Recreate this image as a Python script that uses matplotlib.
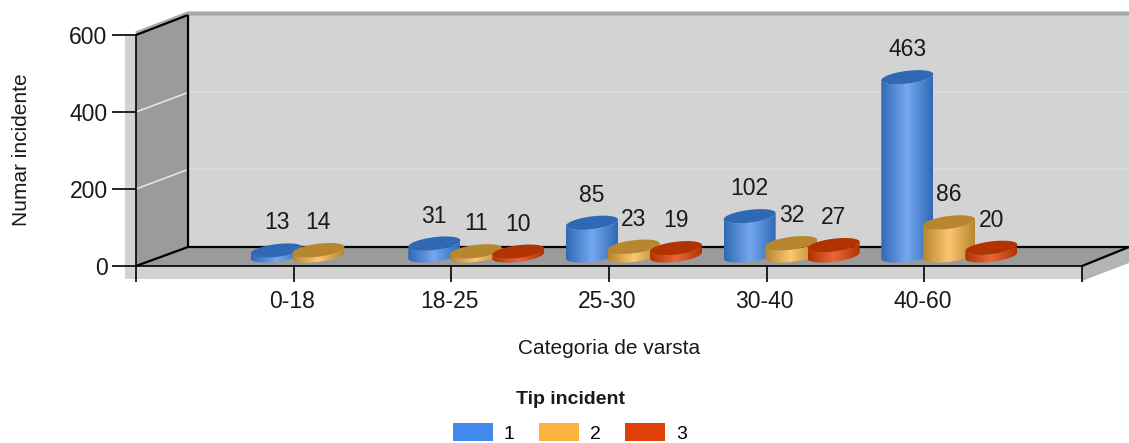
import numpy as np
import matplotlib
matplotlib.use("Agg")
import matplotlib.pyplot as plt
from matplotlib.colors import LinearSegmentedColormap
from matplotlib.patches import Polygon, Patch
from matplotlib.transforms import Affine2D, ScaledTranslation

categories = ["0-18", "18-25", "25-30", "30-40", "40-60"]
series_names = ["1", "2", "3"]
tip1 = [13, 31, 85, 102, 463]
tip2 = [14, 11, 23, 32, 86]
tip3 = [None, 10, 19, 27, 20]
y_ticks = [0, 200, 400, 600]
x_title = "Categoria de varsta"
y_title = "Numar incidente"
legend_title = "Tip incident"
legend_colors = ["#4289ee", "#fdb240", "#e04008"]
side_colors = [("#2f69b5", "#74a8f0"), ("#b8862f", "#fdc672"), ("#b23300", "#ea673c")]

W, H = 1129, 443
NUM_SIZE = 16.5
plt.rcParams["font.family"] = ["Liberation Sans", "DejaVu Sans"]
fig = plt.figure(figsize=(W / 100, H / 100), dpi=100, facecolor="white")
ax = fig.add_axes([136 / W, 1 - 266 / H, 946 / W, 231 / H])
ax.set_facecolor("none")
pix = Affine2D().scale(1, -1).translate(0, H)  # image-pixel coordinates

def deco(points, fc, z=0):
    fig.add_artist(Polygon(points, closed=True, fc=fc, ec="none", transform=pix, zorder=z))

def dline(xs, ys, color="black", lw=1.6, z=1):
    ax.plot(xs, ys, color=color, lw=lw, transform=pix, clip_on=False, zorder=z, solid_capstyle="butt")

OFFX, OFFY = 52, 19.5
LEFT, RIGHT, BOTTOM, TOP = 136, 1082, 266, 35
deco([(125, 35), (136, 35), (136, 279), (125, 279)], "#d3d3d3")
deco([(136, 266), (1082, 266), (1082, 279), (136, 279)], "#d3d3d3")
deco([(1082, 266), (1129, 247), (1129, 263), (1082, 281)], "#b4b4b4")
deco([(188, 15), (1129, 15), (1129, 247), (188, 247)], "#d3d3d3")
deco([(136, 35), (188, 15), (188, 247), (136, 266)], "#9b9b9b")
deco([(136, 266), (188, 247), (1129, 247), (1082, 266)], "#9b9b9b")

ax.set_xlim(0, 6)
ax.set_ylim(0, 600)

# gridlines on the walls
for v in y_ticks[1:-1]:
    _, yd = ax.transData.transform((0, v))
    yp = H - yd
    dline([LEFT, LEFT + OFFX], [yp, yp - OFFY], color="#e4e4e4", lw=1.2)
    dline([LEFT + OFFX, W], [yp - OFFY, yp - OFFY], color="#dcdcdc", lw=1.2)

# wall edges
dline([LEFT, LEFT + OFFX, W], [TOP - 1.5, 13.5, 13.5], color="#a8a8a8", lw=3)
dline([LEFT, LEFT + OFFX], [TOP, 15])
dline([LEFT, LEFT + OFFX], [BOTTOM, 247])
dline([LEFT + OFFX, LEFT + OFFX], [15, 247])
dline([LEFT + OFFX, W], [247, 247])
dline([RIGHT, W], [BOTTOM, 247])

# cylinders
A, B, K = 26.0, 6.4, 0.12
BASE_PX = 10.5
SHIFTS = [-0.108, 0.157, 0.425]

def ell(cx, cy, t):
    return cx + A * np.cos(t), cy - K * A * np.cos(t) - B * np.sin(t)

def cylinder(xv, v, colors, z):
    x0, y0 = ax.transData.transform((xv, 0))
    _, y1 = ax.transData.transform((xv, v))
    cx = x0
    cyb = H - y0 - BASE_PX
    cyt = H - y1 - BASE_PX
    cm = LinearSegmentedColormap.from_list("c", [colors[0], colors[1], colors[0]])
    t = np.linspace(np.pi, 2 * np.pi, 40)
    bx, by = ell(cx, cyb, t)
    tx, ty = ell(cx, cyt, t[::-1])
    verts = np.column_stack([np.r_[bx, tx], np.r_[by, ty]])
    body = Polygon(verts, closed=True, transform=pix, fc="none", ec="none", zorder=z)
    ax.add_patch(body)
    g = np.linspace(0, 1, 128).reshape(1, -1)
    im = ax.imshow(g, cmap=cm, extent=(cx - A, cx + A, cyb + 12, cyt - 12), aspect="auto",
                   transform=pix, zorder=z, interpolation="bilinear")
    im.set_clip_path(body)
    ex, ey = ell(cx, cyt, np.linspace(0, 2 * np.pi, 80))
    ax.add_patch(Polygon(np.column_stack([ex, ey]), closed=True, transform=pix,
                         fc=colors[0], ec="none", zorder=z + 0.1, clip_on=False))
    ax.annotate(str(v), (cx, H - cyt), xycoords="figure pixels", xytext=(0, 27.5 * 0.72),
                textcoords="offset points", ha="center", va="center", fontsize=NUM_SIZE,
                color="#1a1a1a", zorder=20)

z = 5.0
for i in range(len(categories)):
    for s, vals in enumerate([tip1, tip2, tip3]):
        if vals[i] is not None:
            cylinder(i + 1 + SHIFTS[s], vals[i], side_colors[s], z)
            z += 0.2

ax.set_xlim(0, 6)
ax.set_ylim(0, 600)

# axes furniture
for k in ("top", "right"):
    ax.spines[k].set_visible(False)
for k in ("left", "bottom"):
    ax.spines[k].set_linewidth(1.2)
    ax.spines[k].set_zorder(3)
ax.set_yticks(y_ticks)
ax.set_xticks(range(7))
ax.set_xticklabels([""] + categories + [""])
ax.tick_params(axis="y", length=17, width=1.2, pad=3.5, labelsize=NUM_SIZE, labelcolor="#1a1a1a")
ax.tick_params(axis="x", length=11.5, width=1.2, pad=6, labelsize=NUM_SIZE, labelcolor="#1a1a1a")
shift = ScaledTranslation(-2 / 100, 0, fig.dpi_scale_trans)
for lab in ax.get_xticklabels():
    lab.set_transform(lab.get_transform() + shift)
fig.text(609 / W, 1 - 348 / H, x_title, ha="center", va="center", fontsize=15, color="#1a1a1a")
fig.text(22 / W, 1 - 150 / H, y_title, ha="center", va="center", rotation=90, fontsize=15, color="#1a1a1a")

handles = [Patch(fc=c, ec="none", label=n) for c, n in zip(legend_colors, series_names)]
leg = fig.legend(handles=handles, ncol=3, loc="center", bbox_to_anchor=(570 / W, 1 - 417 / H),
                 frameon=False, fontsize=14, handlelength=2.05, handleheight=1.0,
                 handletextpad=0.55, columnspacing=1.27, borderpad=0,
                 title=legend_title, title_fontproperties={"weight": "bold", "size": 14})
leg._legend_box.sep = 11
leg.get_title().set_color("#1a1a1a")

fig.savefig("out.png", dpi=100, facecolor="white")
